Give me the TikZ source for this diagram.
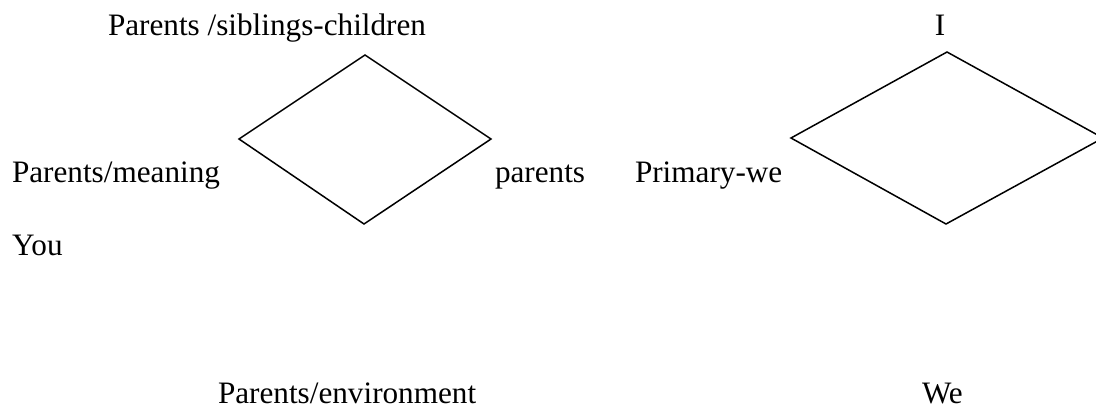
\documentclass[tikz,border=0pt]{standalone}
\usepackage{fontspec}
\setmainfont{Liberation Serif}
\begin{document}
\begin{tikzpicture}[x=0.5pt,y=-0.5pt,
  lbl/.style={anchor=base west,inner sep=0pt,outer sep=0pt,font=\fontsize{15.6pt}{18pt}\selectfont},
  rhomb/.style={draw=black,line width=0.75pt,line join=miter}]
\useasboundingbox (0,0) rectangle (1096,408);
\clip (0,0) rectangle (1096,408);
% texts
\node[lbl] (psc) at (108,35) {Parents /siblings-children};
\node[lbl] (pm) at (12,182) {Parents/meaning};
\node[lbl] (you) at (12,255) {You};
\node[lbl] (par) at (495,182) {parents};
\node[lbl] (pe) at (218,403) {Parents/environment};
\node[lbl] (pw) at (635,182) {Primary-we};
\node[anchor=base,inner sep=0pt,font=\fontsize{15.6pt}{18pt}\selectfont] (i) at (940,35) {I};
\node[lbl] (we) at (922,403) {We};
% left diamond
\coordinate (at) at (365,55);
\coordinate (al) at (239,139);
\coordinate (ab) at (364,224);
\coordinate (ar) at (491,139);
\draw[rhomb] (at) -- (ar) -- (ab) -- (al) -- cycle;
% right diamond
\coordinate (bt) at (947,52);
\coordinate (bl) at (791,138);
\coordinate (bb) at (946,224);
\coordinate (br) at (1103,138);
\draw[rhomb] (bt) -- (br) -- (bb) -- (bl) -- cycle;
\end{tikzpicture}
\end{document}
